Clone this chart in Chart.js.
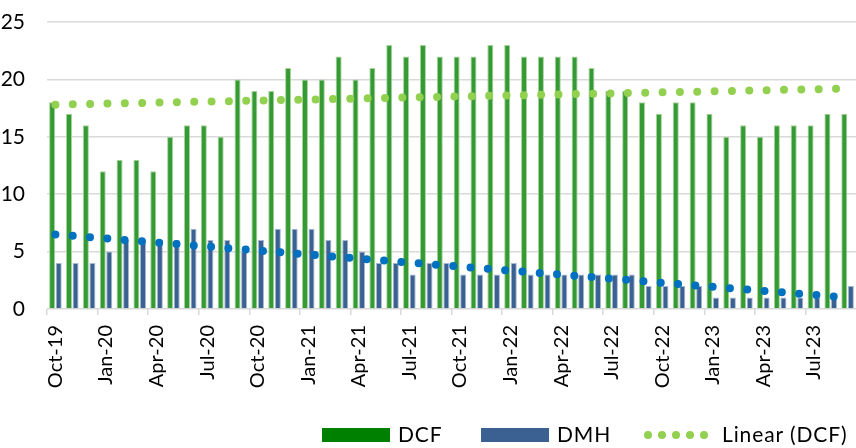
<!DOCTYPE html>
<html>
<head>
<meta charset="utf-8">
<script src="https://cdn.jsdelivr.net/npm/chart.js@4/dist/chart.umd.min.js"></script>
<style>
  html, body { margin: 0; padding: 0; background: #fff; }
  #wrap { position: relative; width: 856px; height: 448px; font-family: Lato, sans-serif; }
  .legend-box { position: absolute; top: 428px; width: 68px; height: 14px; }
  .legend-text { position: absolute; top: 420px; font-size: 21px; line-height: 28px; letter-spacing: 0.9px; color: #000; }
  .legend-dot { position: absolute; top: 431px; width: 8px; height: 8px; border-radius: 50%; background: #92d050; }
</style>
</head>
<body>
<div id="wrap">
  <canvas id="chart" width="856" height="448"></canvas>
  <div class="legend-box" style="left:322px;background:#008000"></div>
  <div class="legend-text" style="left:398px">DCF</div>
  <div class="legend-box" style="left:481px;background:#3a6192"></div>
  <div class="legend-text" style="left:557px">DMH</div>
  <div id="trend-key"></div>
  <div class="legend-text" style="left:722px">Linear (DCF)</div>
</div>
<script>
const months = [
  "Oct-19", "Nov-19", "Dec-19", "Jan-20", "Feb-20", "Mar-20", "Apr-20", "May-20", "Jun-20", "Jul-20", "Aug-20", "Sep-20",
  "Oct-20", "Nov-20", "Dec-20", "Jan-21", "Feb-21", "Mar-21", "Apr-21", "May-21", "Jun-21", "Jul-21", "Aug-21", "Sep-21",
  "Oct-21", "Nov-21", "Dec-21", "Jan-22", "Feb-22", "Mar-22", "Apr-22", "May-22", "Jun-22", "Jul-22", "Aug-22", "Sep-22",
  "Oct-22", "Nov-22", "Dec-22", "Jan-23", "Feb-23", "Mar-23", "Apr-23", "May-23", "Jun-23", "Jul-23", "Aug-23", "Sep-23",
];

const dcf = [
  18, 17, 16, 12, 13, 13, 12, 15, 16, 16, 15, 20,
  19, 19, 21, 20, 20, 22, 20, 21, 23, 22, 23, 22,
  22, 22, 23, 23, 22, 22, 22, 22, 21, 19, 19, 18,
  17, 18, 18, 17, 15, 16, 15, 16, 16, 16, 17, 17,
];

const dmh = [
  4, 4, 4, 5, 6, 6, 6, 6, 7, 6, 6, 5,
  6, 7, 7, 7, 6, 6, 5, 4, 4, 3, 4, 4,
  3, 3, 3, 4, 3, 3, 3, 3, 3, 3, 3, 2,
  2, 2, 2, 1, 1, 1, 1, 1, 1, 1, 1, 2,
];

// trend line end values (first and last month)
const dcfTrendEnds = [17.8, 19.2];
const dmhTrendEnds = [6.5, 1.0];

const yTicks = [0, 5, 10, 15, 20, 25];

function trendSeries(ends) {
  const data = Array(months.length).fill(null);
  data[0] = ends[0];
  data[months.length - 1] = ends[1];
  return data;
}

// legend key for the dotted trend line
const trendKey = document.getElementById("trend-key");
[644, 658, 672, 686, 700].forEach((x) => {
  const dot = document.createElement("div");
  dot.className = "legend-dot";
  dot.style.left = `${x}px`;
  trendKey.appendChild(dot);
});

const tickFont = { family: "Lato", size: 20 };

function dottedLine(data, color) {
  return {
    type: "line",
    data,
    spanGaps: true,
    borderColor: color,
    borderWidth: 8,
    borderDash: [0, 17.35],
    borderCapStyle: "round",
    pointRadius: 0,
    fill: false,
    order: 0,
  };
}

function renderChart() {
  const ctx = document.getElementById("chart").getContext("2d");
  new Chart(ctx, {
    type: "bar",
    data: {
      labels: months,
      datasets: [
        {
          label: "DCF",
          data: dcf,
          backgroundColor: "#349a34",
          borderColor: "#a9d39a",
          borderWidth: 1,
          categoryPercentage: 0.78,
          barPercentage: 0.92,
          order: 2,
        },
        {
          label: "DMH",
          data: dmh,
          backgroundColor: "#3a6192",
          borderColor: "#a7b9d0",
          borderWidth: 1,
          categoryPercentage: 0.78,
          barPercentage: 0.92,
          order: 2,
        },
        { label: "Linear (DCF)", ...dottedLine(trendSeries(dcfTrendEnds), "#92d050") },
        { label: "Linear (DMH)", ...dottedLine(trendSeries(dmhTrendEnds), "#0070c0") },
      ],
    },
    options: {
      responsive: false,
      animation: false,
      layout: { padding: { top: 22, left: 0, right: 0, bottom: 0 } },
      plugins: {
        legend: { display: false },
        tooltip: { enabled: false },
      },
      scales: {
        x: {
          offset: true,
          border: { display: false },
          grid: {
            offset: true,
            drawOnChartArea: false,
            drawTicks: true,
            tickLength: 6,
            lineWidth: 1.5,
            color: (c) => (c.index % 3 === 0 ? "#d9d9d9" : "rgba(0,0,0,0)"),
          },
          ticks: {
            autoSkip: false,
            minRotation: 90,
            maxRotation: 90,
            padding: 10,
            color: "#000",
            font: tickFont,
            callback: (value, index) => (index % 3 === 0 ? months[index] : ""),
          },
          afterFit: (scale) => {
            scale.height = 139;
            scale.paddingLeft = 0;
            scale.paddingRight = 0;
          },
        },
        y: {
          min: 0,
          max: 25,
          border: { display: false },
          grid: { color: "#d9d9d9", lineWidth: 1.5, drawTicks: false },
          afterBuildTicks: (scale) => {
            scale.ticks = yTicks.map((v) => ({ value: v }));
          },
          ticks: {
            padding: 22,
            color: "#000",
            font: { family: "Lato", size: 21 },
          },
          afterFit: (scale) => {
            scale.width = 47;
            scale.paddingTop = 0;
            scale.paddingBottom = 0;
          },
        },
      },
    },
  });
}

document.fonts.load("20px Lato").then(renderChart, renderChart);
</script>
</body>
</html>
